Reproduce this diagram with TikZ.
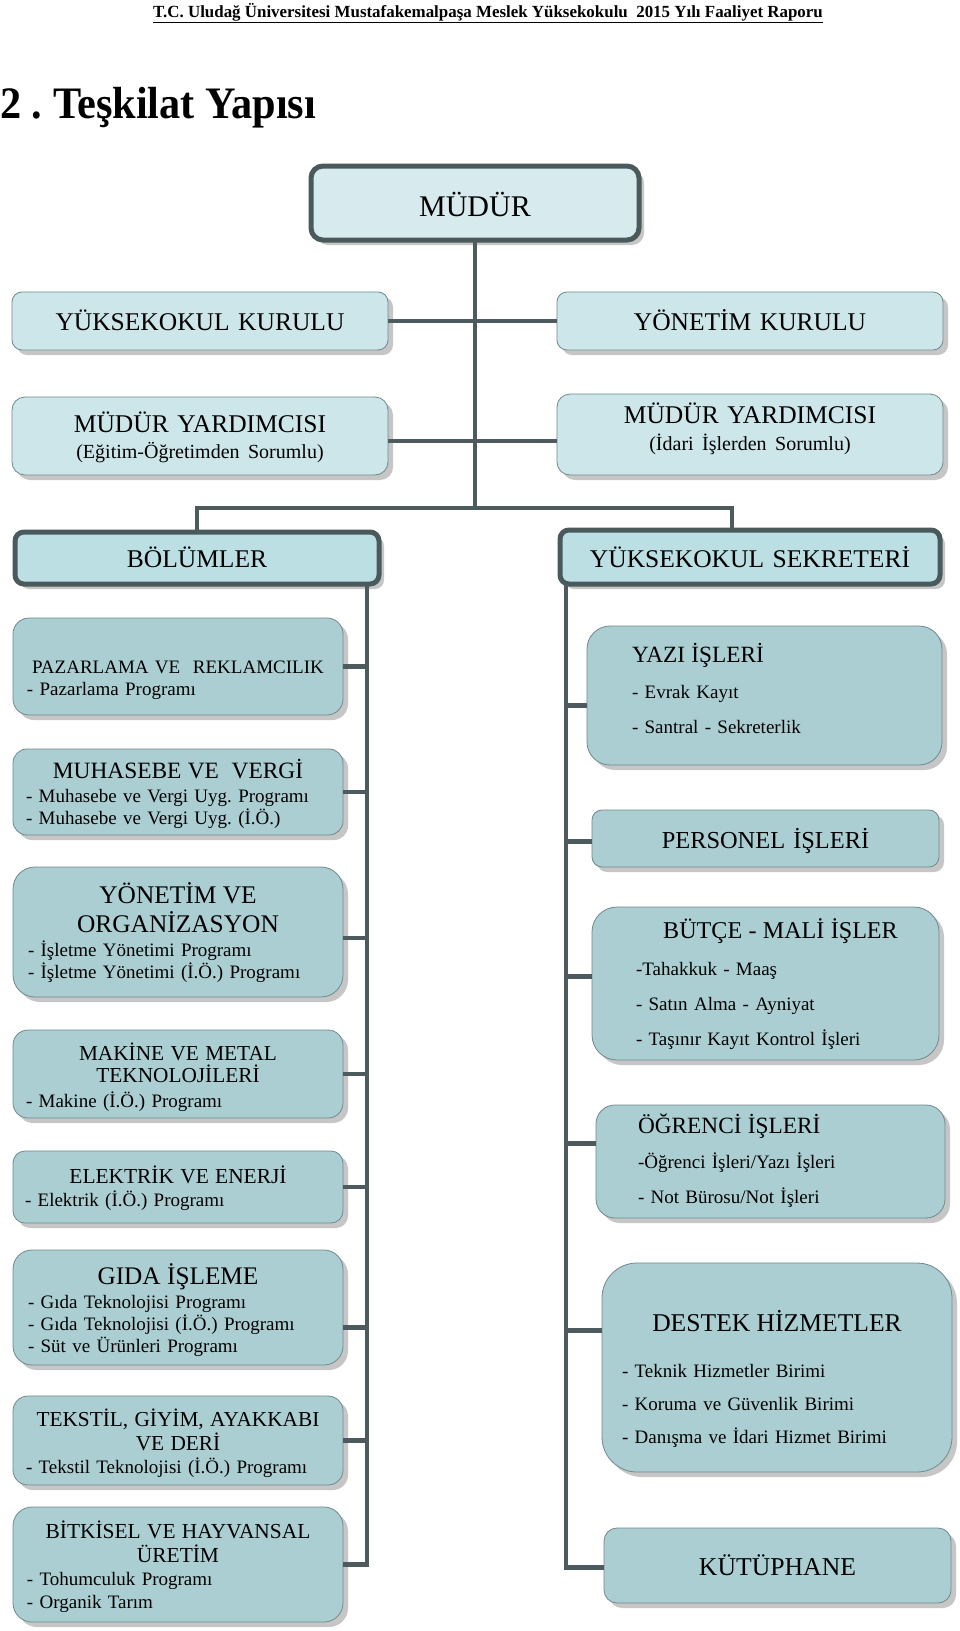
\documentclass[tikz,border=0pt]{standalone}
\usepackage{fontspec}
\setmainfont{Liberation Serif}
\usetikzlibrary{shadows}
\frenchspacing

\definecolor{linegray}{HTML}{4D5B5E}
\definecolor{rimgray}{HTML}{4A5A5C}
\definecolor{edgegray}{HTML}{71898C}
\definecolor{shadegray}{HTML}{C6C6C6}
\definecolor{topblue}{HTML}{D7EBEF}
\definecolor{boardblue}{HTML}{CCE6EA}
\definecolor{headblue}{HTML}{BCDFE3}
\definecolor{unitblue}{HTML}{ABCED2}

% centred title line inside a left aligned box
\newcommand{\ttl}[2]{\makebox[\linewidth]{\fontsize{#1}{22}\selectfont #2}}

\begin{document}
\begin{tikzpicture}[x=1pt, y=-1pt,
  conn/.style={draw=linegray, line width=4.5pt},
  unit/.style={draw=edgegray, line width=0.8pt, fill=unitblue, inner sep=0pt,
    outer sep=0pt, anchor=north west, align=left,
    font=\fontsize{19}{22}\selectfont,
    drop shadow={shadow xshift=5pt, shadow yshift=-5pt, fill=shadegray, opacity=1}},
  board/.style={unit, fill=boardblue, align=center, font=\fontsize{25.5}{24}\selectfont},
  head/.style={board, draw=rimgray, line width=5pt, fill=headblue}]

  \fill[white] (0,0) rectangle (960,1631);

  \node[font=\bfseries\fontsize{17}{20}\selectfont, anchor=base, inner sep=0pt] (hdr) at (488,17)
    {\scalebox{0.995}[1]{\underline{T.C. Uludağ Üniversitesi Mustafakemalpaşa Meslek Yüksekokulu\ \ 2015 Yılı Faaliyet Raporu}}};
  \node[font=\bfseries\fontsize{45}{50}\selectfont, anchor=base west, inner sep=0pt] (title) at (0,118)
    {\scalebox{0.94}[1]{2 . Teşkilat Yapısı}};

  % top of the chart
  \node[head, fill=topblue, text width=328pt, text height=50pt, text depth=24pt,
    rounded corners=12pt, font=\fontsize{30}{30}\selectfont] (mudur) at (311,166) {MÜDÜR};
  \node[board, text width=376pt, text height=38pt, text depth=20pt, rounded corners=10pt]
    (ykurul) at (12,292) {YÜKSEKOKUL KURULU};
  \node[board, text width=386pt, text height=38pt, text depth=20pt, rounded corners=10pt]
    (ykurulu) at (557,292) {YÖNETİM KURULU};
  \node[board, text width=376pt, text height=35pt, text depth=43pt, rounded corners=13pt]
    (yardl) at (12,397) {MÜDÜR YARDIMCISI\\[2pt]{\fontsize{20}{24}\selectfont (Eğitim-Öğretimden Sorumlu)}};
  \node[board, text width=386pt, text height=29pt, text depth=52pt, rounded corners=13pt]
    (yardr) at (557,394) {MÜDÜR YARDIMCISI\\[3pt]{\fontsize{20}{24}\selectfont (İdari İşlerden Sorumlu)}};
  \node[head, text width=364pt, text height=35pt, text depth=17pt, rounded corners=9pt]
    (bolum) at (15,532) {BÖLÜMLER};
  \node[head, text width=380pt, text height=37pt, text depth=17pt, rounded corners=9pt]
    (sekr) at (560,530) {YÜKSEKOKUL SEKRETERİ};

  % bolumler
  \node[unit, inner xsep=14pt, text width=302pt, text height=55pt, text depth=42pt, rounded corners=16pt]
    (pazar) at (13,618) {\ttl{19}{PAZARLAMA VE\ \ REKLAMCILIK}\\- Pazarlama Programı};
  \node[unit, inner xsep=13pt, text width=304pt, text height=29pt, text depth=57pt, rounded corners=14pt]
    (muhas) at (13,749) {\ttl{23.4}{MUHASEBE VE\ \ VERGİ}\\[2pt]- Muhasebe ve Vergi Uyg. Programı\\- Muhasebe ve Vergi Uyg. (İ.Ö.)};
  \node[unit, inner xsep=15pt, text width=300pt, text height=36pt, text depth=94pt, rounded corners=22pt]
    (yonet) at (13,867) {\ttl{25.4}{YÖNETİM VE}\\[7pt]\ttl{25.4}{ORGANİZASYON}\\[2pt]- İşletme Yönetimi Programı\\- İşletme Yönetimi (İ.Ö.) Programı};
  \node[unit, inner xsep=13pt, text width=304pt, text height=30pt, text depth=58pt, rounded corners=15pt]
    (makine) at (13,1030) {\ttl{21.3}{MAKİNE VE METAL}\\\ttl{21.3}{TEKNOLOJİLERİ}\\[3pt]- Makine (İ.Ö.) Programı};
  \node[unit, inner xsep=12pt, text width=306pt, text height=32pt, text depth=40pt, rounded corners=12pt]
    (elekt) at (13,1151) {\ttl{21.4}{ELEKTRİK VE ENERJİ}\\[1pt]- Elektrik (İ.Ö.) Programı};
  \node[unit, inner xsep=15pt, text width=300pt, text height=34pt, text depth=81pt, rounded corners=19pt]
    (gida) at (13,1250) {\ttl{25.3}{GIDA İŞLEME}\\[2pt]- Gıda Teknolojisi Programı\\- Gıda Teknolojisi (İ.Ö.) Programı\\- Süt ve Ürünleri Programı};
  \node[unit, inner xsep=13pt, text width=304pt, text height=30pt, text depth=59pt, rounded corners=15pt]
    (tekst) at (13,1396) {\ttl{21.3}{TEKSTİL, GİYİM, AYAKKABI}\\[2pt]\ttl{21.3}{VE DERİ}\\[1pt]- Tekstil Teknolojisi (İ.Ö.) Programı};
  \node[unit, inner xsep=14pt, text width=302pt, text height=31pt, text depth=84pt, rounded corners=19pt]
    (bitki) at (13,1507) {\ttl{21.4}{BİTKİSEL VE HAYVANSAL}\\[2pt]\ttl{21.4}{ÜRETİM}\\[1pt]- Tohumculuk Programı\\[1pt]- Organik Tarım};

  % sekreterlik birimleri
  \node[unit, inner xsep=45pt, text width=265pt, text height=36pt, text depth=103pt, rounded corners=23pt]
    (yazi) at (587,626) {{\fontsize{23.3}{22}\selectfont YAZI İŞLERİ}\\[14pt]- Evrak Kayıt\\[13pt]- Santral - Sekreterlik};
  \node[unit, align=center, text width=347pt, text height=38pt, text depth=19pt, rounded corners=10pt,
    font=\fontsize{24.4}{24}\selectfont] (perso) at (592,810) {PERSONEL İŞLERİ};
  \node[unit, inner xsep=44pt, text width=259pt, text height=31pt, text depth=122pt, rounded corners=25pt]
    (butce) at (592,907) {\ttl{24.1}{\hspace*{30pt}BÜTÇE - MALİ İŞLER}\\[15pt]-Tahakkuk - Maaş\\[13pt]- Satın Alma - Ayniyat\\[13pt]- Taşınır Kayıt Kontrol İşleri};
  \node[unit, inner xsep=42pt, text width=265pt, text height=28pt, text depth=85pt, rounded corners=19pt]
    (ogrenci) at (596,1105) {{\fontsize{23.3}{22}\selectfont ÖĞRENCİ İŞLERİ}\\[13pt]-Öğrenci İşleri/Yazı İşleri\\[13pt]- Not Bürosu/Not İşleri};
  \node[unit, inner xsep=20pt, text width=310pt, text height=68pt, text depth=141pt, rounded corners=35pt]
    (destek) at (602,1263) {\ttl{25.6}{DESTEK HİZMETLER}\\[24pt]- Teknik Hizmetler Birimi\\[11pt]- Koruma ve Güvenlik Birimi\\[11pt]- Danışma ve İdari Hizmet Birimi};
  \node[unit, align=center, text width=347pt, text height=47pt, text depth=28pt, rounded corners=13pt,
    font=\fontsize{25.7}{24}\selectfont] (kutup) at (604,1528) {KÜTÜPHANE};

  \coordinate (busl) at (197,508);
  \coordinate (busr) at (732,508);
  \coordinate (lbus) at (367,0);
  \coordinate (rbus) at (566,0);

  \draw[conn] (mudur.south) -- (mudur.south |- busl);
  \draw[conn] (ykurul.east) -- (ykurulu.west);
  \draw[conn] ([yshift=-5pt]yardl.east) -- ([yshift=-5pt]yardl.east -| yardr.west);
  \draw[conn] (bolum.north -| busl) -- (busl) -- (busr) -- (sekr.north -| busr);

  \draw[conn] (bolum.south -| lbus) |- (bitki.east);
  \draw[conn] (pazar.east) -- (pazar.east -| lbus);
  \draw[conn] (muhas.east) -- (muhas.east -| lbus);
  \draw[conn] ([yshift=-6pt]yonet.east) -- ([yshift=-6pt]yonet.east -| lbus);
  \draw[conn] (makine.east) -- (makine.east -| lbus);
  \draw[conn] (elekt.east) -- (elekt.east -| lbus);
  \draw[conn] ([yshift=-20pt]gida.east) -- ([yshift=-20pt]gida.east -| lbus);
  \draw[conn] (tekst.east) -- (tekst.east -| lbus);

  \draw[conn] (sekr.south -| rbus) |- ([yshift=-2pt]kutup.west);
  \draw[conn] ([yshift=-10pt]yazi.west) -- ([yshift=-10pt]yazi.west -| rbus);
  \draw[conn] ([yshift=-3pt]perso.west) -- ([yshift=-3pt]perso.west -| rbus);
  \draw[conn] ([yshift=7pt]butce.west) -- ([yshift=7pt]butce.west -| rbus);
  \draw[conn] ([yshift=18pt]ogrenci.west) -- ([yshift=18pt]ogrenci.west -| rbus);
  \draw[conn] ([yshift=37pt]destek.west) -- ([yshift=37pt]destek.west -| rbus);
\end{tikzpicture}
\end{document}
